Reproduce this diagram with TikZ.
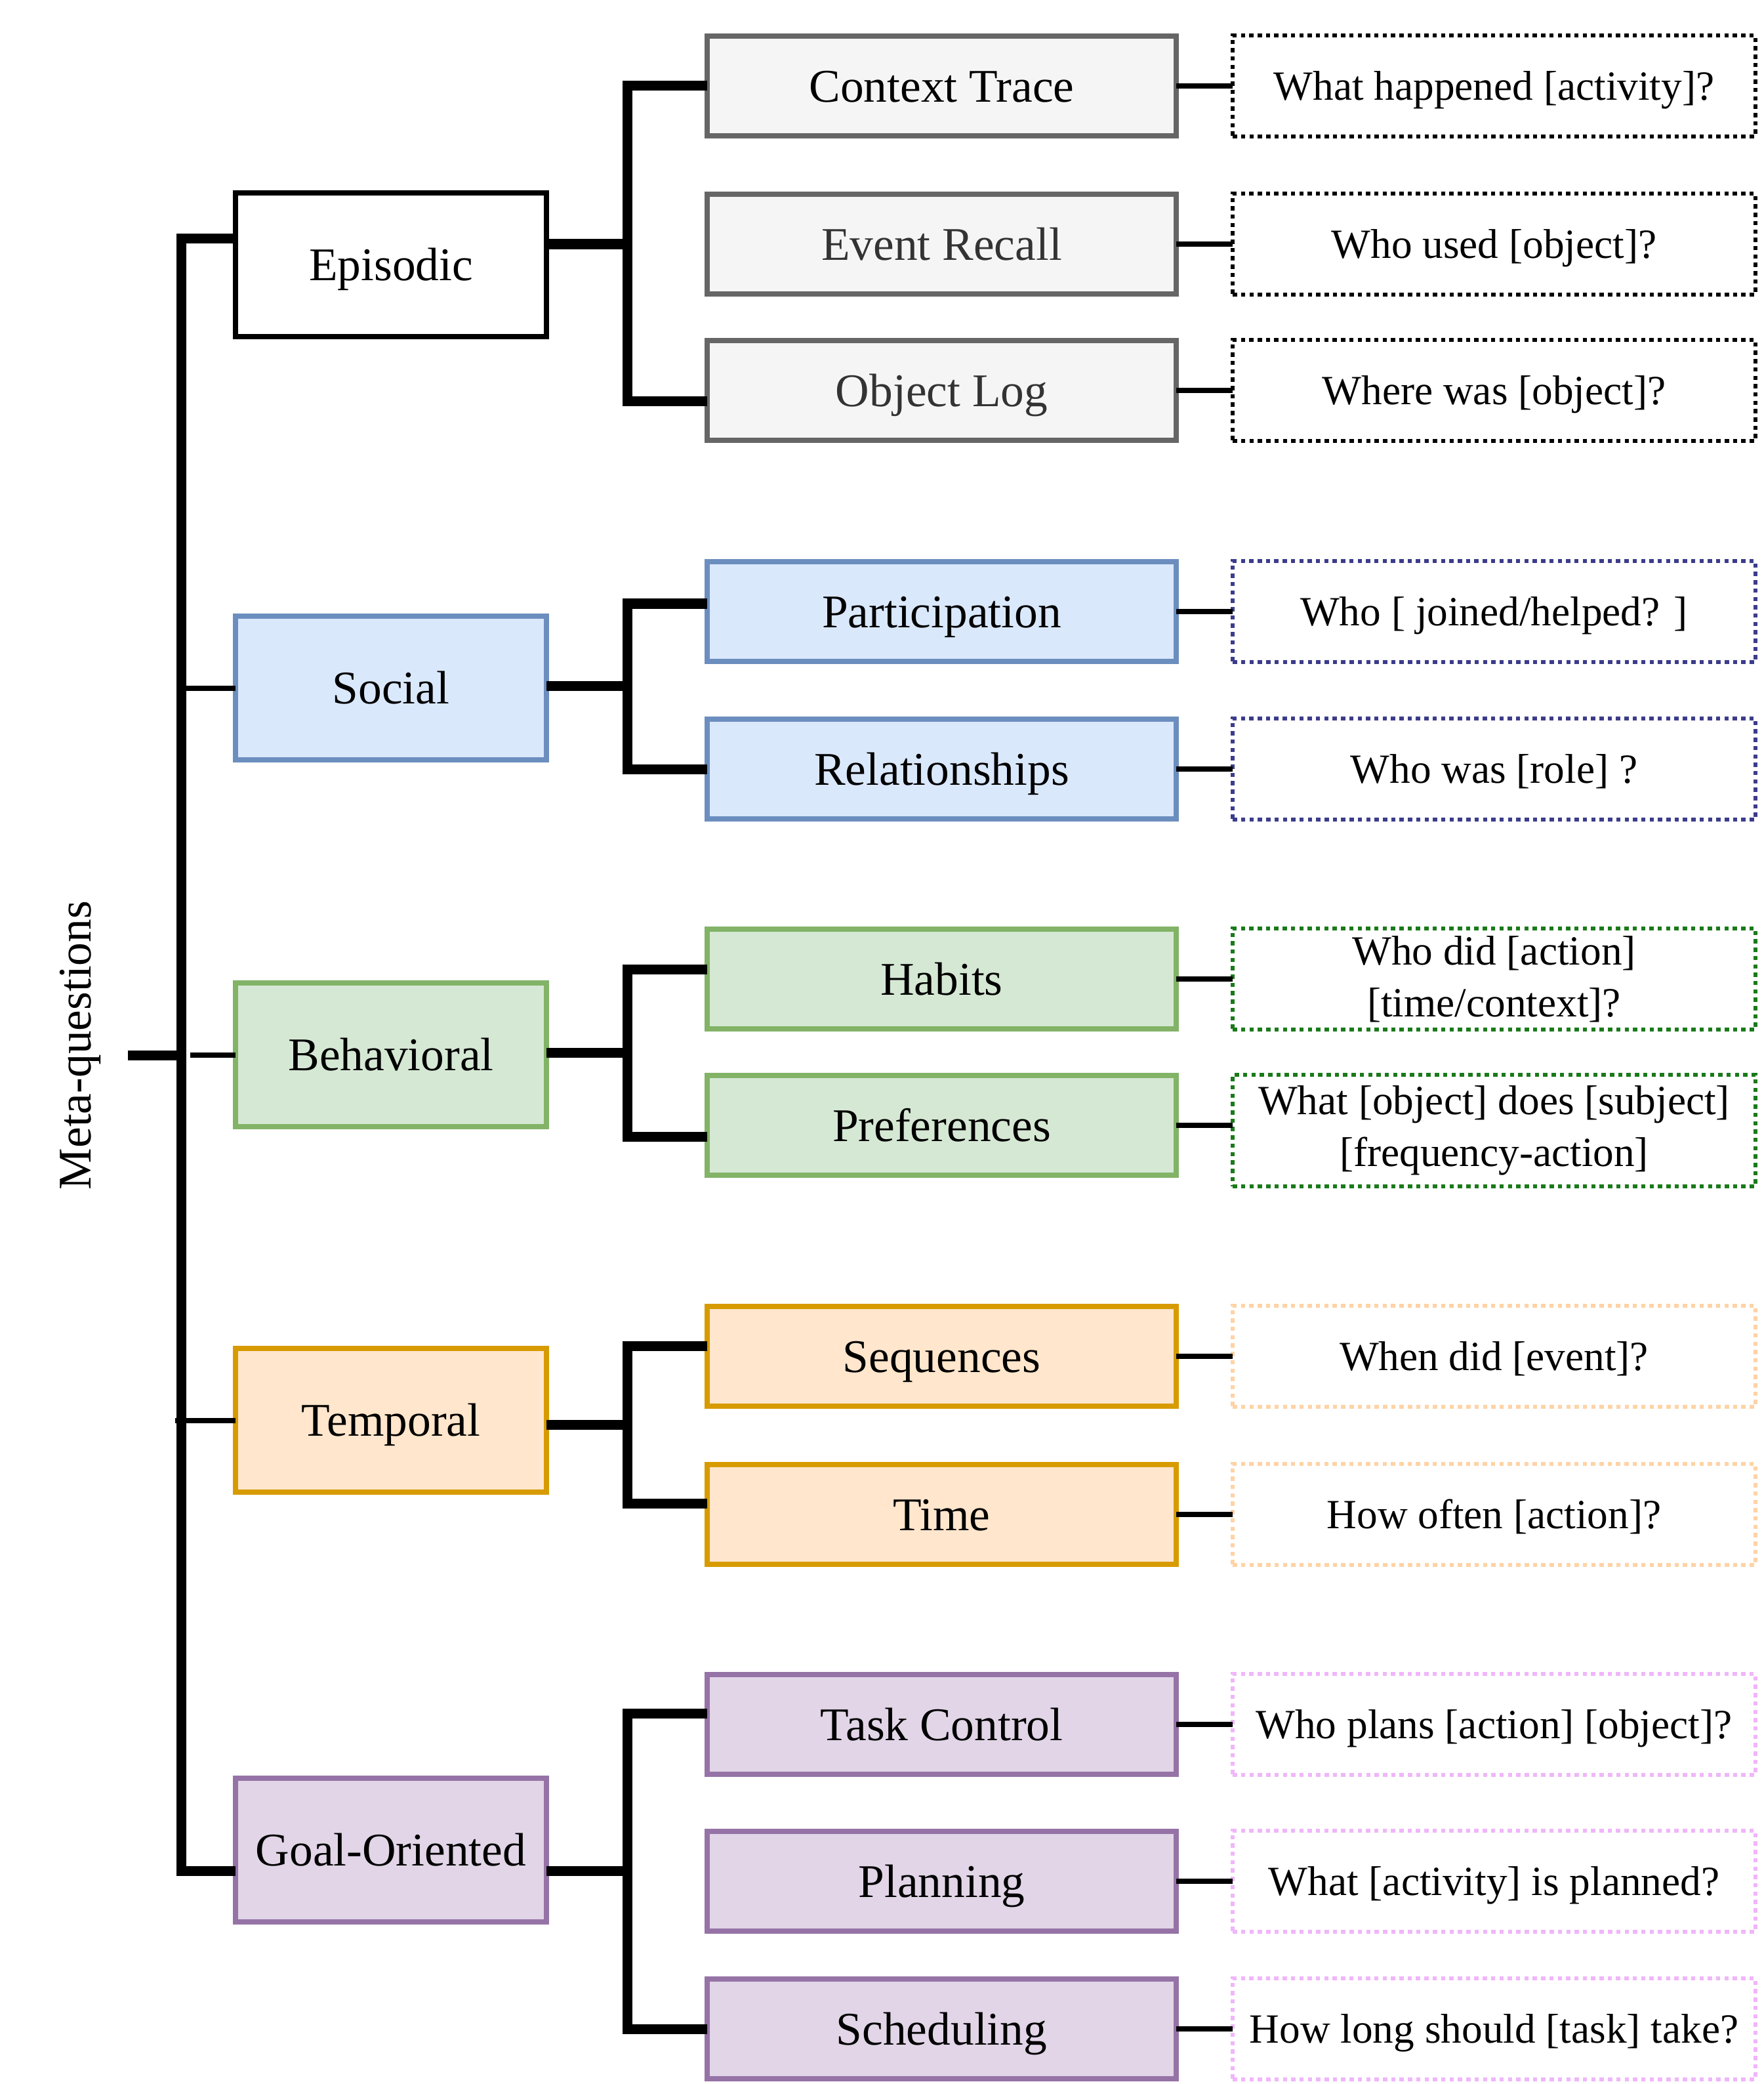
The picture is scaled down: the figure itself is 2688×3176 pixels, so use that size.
\documentclass[tikz,border=0pt]{standalone}
\usepackage{tikz}
\usepackage{fontspec}
\setmainfont{Liberation Serif}
\definecolor{EpiFill}{HTML}{F5F5F5}
\definecolor{EpiLine}{HTML}{666666}
\definecolor{EpiText}{HTML}{333333}
\definecolor{SocialFill}{HTML}{DAE8FC}
\definecolor{SocialLine}{HTML}{6C8EBF}
\definecolor{SocialDot}{HTML}{3C3C8C}
\definecolor{BehavFill}{HTML}{D5E8D4}
\definecolor{BehavLine}{HTML}{82B366}
\definecolor{BehavDot}{HTML}{1A7A1A}
\definecolor{TempFill}{HTML}{FFE6CC}
\definecolor{TempLine}{HTML}{D79B00}
\definecolor{TempDot}{HTML}{FFD3A6}
\definecolor{GoalFill}{HTML}{E1D5E7}
\definecolor{GoalLine}{HTML}{9673A6}
\definecolor{GoalDot}{HTML}{F0B6FA}
\newcommand{\boxfont}{\fontsize{20.3pt}{24pt}\selectfont}
\newcommand{\qfont}{\fontsize{18pt}{22.6pt}\selectfont}

\begin{document}
\begin{tikzpicture}[x=0.01cm, y=-0.01cm, node distance=8.415cm,
    cat/.style={draw, rectangle, line width=0.075cm, minimum width=4.74cm, minimum height=2.19cm, inner sep=0pt, outer sep=0pt, font=\boxfont, text height=18.1pt, text depth=4.4pt},
    sub/.style={draw, rectangle, line width=0.075cm, minimum width=7.15cm, minimum height=1.52cm, inner sep=0pt, outer sep=0pt, font=\boxfont, text height=18.1pt, text depth=4.4pt},
    ques/.style={draw, rectangle, line width=0.06cm, dash pattern=on 0.065cm off 0.062cm, minimum width=7.96cm, minimum height=1.54cm, inner sep=0pt, outer sep=0pt, align=center, font=\qfont, text height=16pt, text depth=3.9pt},
    qtwo/.style={ques, text height={}, text depth={}},
    branch/.style={line width=0.15cm},
    twig/.style={line width=0.08cm}]
    \useasboundingbox (0,0) rectangle (2688,3176);

    % root and categories
    \node [rotate=90, anchor=base, font=\boxfont] (meta) at (138,1593) {Meta-questions};
    \coordinate (root) at (195,1608);
    \coordinate (trunk) at (276,1608);
    \node [cat, fill=white] (epi) at (596,403.5) {Episodic};
    \node [cat, draw=SocialLine, fill=SocialFill] (soc) at (596,1048.5) {Social};
    \node [cat, draw=BehavLine, fill=BehavFill] (beh) at (596,1607.5) {Behavioral};
    \node [cat, draw=TempLine, fill=TempFill] (tem) at (596,2164.5) {Temporal};
    \node [cat, draw=GoalLine, fill=GoalFill] (goal) at (596,2819.5) {Goal-Oriented};

    % sub-categories
    \node [sub, draw=EpiLine, fill=EpiFill] (ctx) at (1435.5,131) {Context Trace};
    \node [sub, draw=EpiLine, fill=EpiFill, text=EpiText] (er) at (1435.5,372) {Event Recall};
    \node [sub, draw=EpiLine, fill=EpiFill, text=EpiText] (olog) at (1435.5,595) {Object Log};
    \node [sub, draw=SocialLine, fill=SocialFill] (part) at (1435.5,932) {Participation};
    \node [sub, draw=SocialLine, fill=SocialFill] (rel) at (1435.5,1172) {Relationships};
    \node [sub, draw=BehavLine, fill=BehavFill] (hab) at (1435.5,1492) {Habits};
    \node [sub, draw=BehavLine, fill=BehavFill] (pref) at (1435.5,1715) {Preferences};
    \node [sub, draw=TempLine, fill=TempFill] (seq) at (1435.5,2067) {Sequences};
    \node [sub, draw=TempLine, fill=TempFill] (time) at (1435.5,2308) {Time};
    \node [sub, draw=GoalLine, fill=GoalFill] (task) at (1435.5,2628) {Task Control};
    \node [sub, draw=GoalLine, fill=GoalFill] (plan) at (1435.5,2867) {Planning};
    \node [sub, draw=GoalLine, fill=GoalFill] (sched) at (1435.5,3092) {Scheduling};

    % question templates
    \node [ques, right of=ctx] (qctx) {What happened [activity]?};
    \node [ques, right of=er] (qer) {Who used [object]?};
    \node [ques, right of=olog] (qolog) {Where was [object]?};
    \node [ques, draw=SocialDot, right of=part] (qpart) {Who [ joined/helped? ]};
    \node [ques, draw=SocialDot, right of=rel] (qrel) {Who was [role] ?};
    \node [qtwo, draw=BehavDot, right of=hab] (qhab) {Who did [action]\\{}[time/context]?};
    \node [qtwo, draw=BehavDot, right of=pref, yshift=-0.08cm, minimum height=1.70cm] (qpref) {What [object] does [subject]\\{}[frequency-action]};
    \node [ques, draw=TempDot, right of=seq] (qseq) {When did [event]?};
    \node [ques, draw=TempDot, right of=time] (qtime) {How often [action]?};
    \node [ques, draw=GoalDot, right of=task] (qtask) {Who plans [action] [object]?};
    \node [ques, draw=GoalDot, right of=plan] (qplan) {What [activity] is planned?};
    \node [ques, draw=GoalDot, right of=sched] (qsched) {How long should [task] take?};

    % trunk
    \draw [branch] (root) -- (trunk);
    \draw [branch] ([yshift=0.395cm]epi.west) -| (trunk) |- ([yshift=-0.32cm]goal.west);
    \draw [twig] (soc.west) -- (soc.west -| trunk);
    \draw [twig] (beh.west) -- ([xshift=0.14cm]beh.west -| trunk);
    \draw [twig] (tem.west) -- ([xshift=-0.09cm]tem.west -| trunk);

    % brackets
    \coordinate (epiJ) at (956,372);
    \coordinate (socJ) at (956,1045);
    \coordinate (behJ) at (956,1604);
    \coordinate (temJ) at (956,2171.5);
    \coordinate (goalJ) at (956,2851.5);
    \draw [branch] (epi.east |- epiJ) -- (epiJ);
    \draw [branch] (ctx.west) -| (epiJ) |- ([yshift=-0.16cm]olog.west);
    \draw [branch] (soc.east |- socJ) -- (socJ);
    \draw [branch] ([yshift=0.12cm]part.west) -| (socJ) |- (rel.west);
    \draw [branch] (beh.east |- behJ) -- (behJ);
    \draw [branch] ([yshift=0.15cm]hab.west) -| (behJ) |- ([yshift=-0.17cm]pref.west);
    \draw [branch] (tem.east |- temJ) -- (temJ);
    \draw [branch] ([yshift=0.155cm]seq.west) -| (temJ) |- ([yshift=0.165cm]time.west);
    \draw [branch] (goal.east |- goalJ) -- (goalJ);
    \draw [branch] ([yshift=0.165cm]task.west) -| (goalJ) |- (sched.west);

    % leaves
    \foreach \s/\q in {ctx/qctx, er/qer, olog/qolog, part/qpart, rel/qrel, hab/qhab, pref/qpref, seq/qseq, time/qtime, task/qtask, plan/qplan, sched/qsched}
        \draw [twig] (\s.east) -- (\s.east -| \q.west);
\end{tikzpicture}
\end{document}
